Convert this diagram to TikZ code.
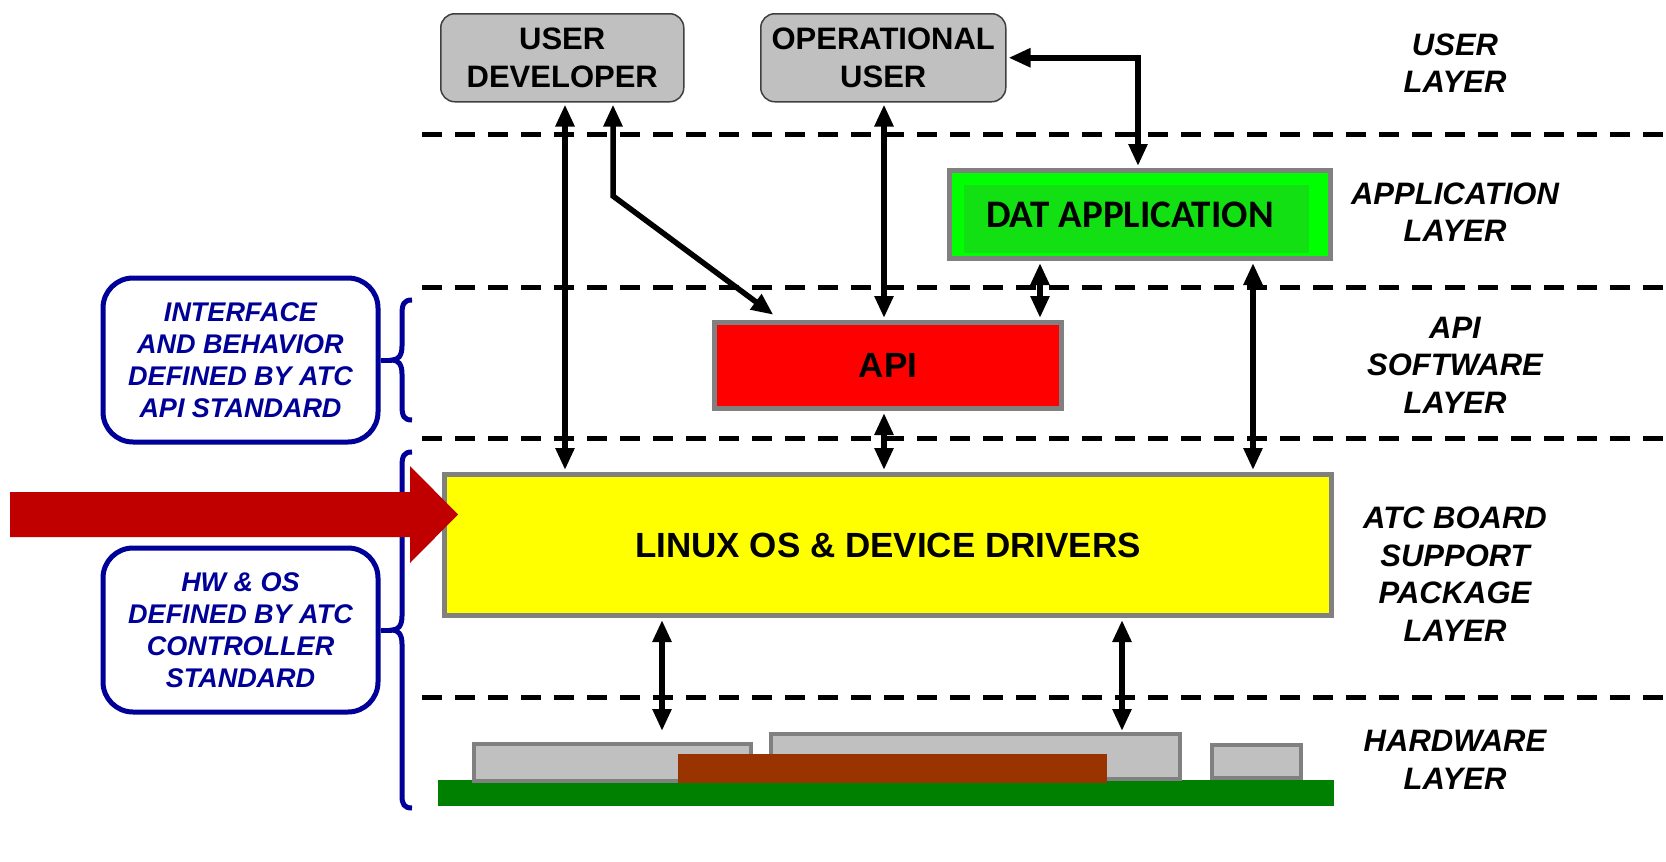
\documentclass[tikz,border=0pt]{standalone}
\usepackage{fontspec}
\setmainfont{Liberation Sans}
\newfontfamily\calib{Carlito}
\usetikzlibrary{arrows.meta,calc}
\definecolor{boxgray}{HTML}{C0C0C0}
\definecolor{midgray}{HTML}{808080}
\definecolor{navyc}{HTML}{000099}
\definecolor{apired}{HTML}{FF0000}
\definecolor{linuxy}{HTML}{FFFF00}
\definecolor{datg}{HTML}{00FF00}
\definecolor{datin}{HTML}{12E012}
\definecolor{boardg}{HTML}{008000}
\definecolor{chipbrown}{HTML}{993300}
\definecolor{arrowred}{HTML}{C00000}
\begin{document}
\begin{tikzpicture}[x=1pt,y=-1pt,
  userbox/.style={draw=black!75, line width=1.5pt, fill=boxgray, rounded corners=14pt,
    anchor=north west, align=center, inner sep=0pt,
    font=\fontsize{31}{38}\selectfont\bfseries},
  layerbox/.style={draw=midgray, line width=5pt, anchor=north west, inner sep=0pt},
  datbox/.style={layerbox, fill=datg, font=\calib\fontsize{39}{40}\selectfont\bfseries,
    path picture={\fill[datin] ([xshift=14pt,yshift=-14pt]path picture bounding box.north west)
      rectangle ([xshift=-22pt,yshift=6pt]path picture bounding box.south east);}},
  layerlbl/.style={align=center, inner sep=0pt, font=\fontsize{31}{37.5}\selectfont\bfseries\itshape},
  stdbox/.style={draw=navyc, line width=5pt, rounded corners=30pt, text=navyc, align=center,
    inner sep=0pt, font=\fontsize{27}{32}\selectfont\bfseries\itshape},
  navyline/.style={draw=navyc, line width=5pt},
  sep/.style={line width=5pt, dash pattern=on 20pt off 13pt},
  dbl/.style={{Triangle[length=22pt,width=18pt]}-{Triangle[length=22pt,width=18pt]},
    line width=5.5pt, shorten <=2pt, shorten >=2pt},
  chip/.style={draw=midgray, fill=boxgray, line width=4pt}
]
\useasboundingbox[fill=white] (0,0) rectangle (1666,862);

% layer separators
\draw[sep] (422,134) -- (1666,134);
\draw[sep] (422,287) -- (1666,287);
\draw[sep] (422,438) -- (1666,438);
\draw[sep] (422,697) -- (1666,697);

% user boxes
\node[userbox, minimum width=243pt, minimum height=88pt] (ud) at (440,13) {USER\\DEVELOPER};
\node[userbox, minimum width=245pt, minimum height=88pt] (ou) at (760,13) {OPERATIONAL\\USER};

% layer boxes
\node[datbox, minimum width=381pt, minimum height=88pt] (dat) at (947,168) {DAT APPLICATION\kern20pt};
\node[layerbox, fill=apired, minimum width=347pt, minimum height=86pt,
  font=\fontsize{35}{40}\selectfont\bfseries] (api) at (712,320) {API};
\node[layerbox, fill=linuxy, minimum width=887pt, minimum height=141pt,
  font=\fontsize{35}{40}\selectfont\bfseries] (linux) at (442,472) {LINUX OS \& DEVICE DRIVERS};

% hardware
\fill[boardg] (438,780) rectangle (1334,806);
\draw[chip] (474,744) rectangle (751,781);
\draw[chip] (771,734) rectangle (1180,779);
\draw[chip] (1212,745) rectangle (1301,778);
\fill[chipbrown] (678,754) rectangle (1107,783);
\coordinate (hw1) at (662,733);
\coordinate (hw2) at (1122,733);

% layer labels
\node[layerlbl] (l1) at (1455,63) {USER\\LAYER};
\node[layerlbl] (l2) at (1455,212) {APPLICATION\\LAYER};
\node[layerlbl] (l3) at (1455,365) {API\\SOFTWARE\\LAYER};
\node[layerlbl] (l4) at (1455,574) {ATC BOARD\\SUPPORT\\PACKAGE\\LAYER};
\node[layerlbl] (l5) at (1455,760) {HARDWARE\\LAYER};

% standard boxes and braces
\node[stdbox, minimum width=275pt, minimum height=164pt] (s1) at (240.5,360)
  {INTERFACE\\AND BEHAVIOR\\DEFINED BY ATC\\API STANDARD};
\node[stdbox, minimum width=275pt, minimum height=164pt] (s2) at (240.5,630)
  {HW \& OS\\DEFINED BY ATC\\CONTROLLER\\STANDARD};
\draw[navyline] (s1.east) -- (392,0 |- s1.east) coordinate (b1);
\draw[navyline] (412,300) .. controls (404,300) and (402,304) .. (402,314) -- (402,346)
  .. controls (402,356) and (398,360) .. (b1)
  .. controls (398,360) and (402,364) .. (402,374) -- (402,406)
  .. controls (402,416) and (404,420) .. (412,420);
\draw[navyline] (s2.east) -- (392,0 |- s2.east) coordinate (b2);
\draw[navyline] (412,452) .. controls (404,452) and (402,456) .. (402,466) -- (402,616)
  .. controls (402,626) and (398,630) .. (b2)
  .. controls (398,630) and (402,634) .. (402,644) -- (402,796)
  .. controls (402,804) and (404,808) .. (412,808);

% red arrow
\fill[arrowred] (10,492) -- (410,492) -- (410,466) -- (458,514.5) -- (410,563) -- (410,537) -- (10,537) -- cycle;

% connectors
\draw[dbl] (565,0 |- ud.south) -- (565,0 |- linux.north);
\draw[dbl] (613,0 |- ud.south) -- (613,196) -- ($(api.north west)+(63,-4)$);
\draw[dbl] (884,0 |- ou.south) -- (884,0 |- api.north);
\draw[dbl] (ou.east) -- (1138,0 |- ou.east) -- (1138,0 |- dat.north);
\draw[dbl] (1040,0 |- dat.south) -- (1040,0 |- api.north);
\draw[dbl] (1253,0 |- dat.south) -- (1253,0 |- linux.north);
\draw[dbl] (884,0 |- api.south) -- (884,0 |- linux.north);
\draw[dbl] (662,0 |- linux.south) -- (hw1);
\draw[dbl] (1122,0 |- linux.south) -- (hw2);
\end{tikzpicture}
\end{document}
